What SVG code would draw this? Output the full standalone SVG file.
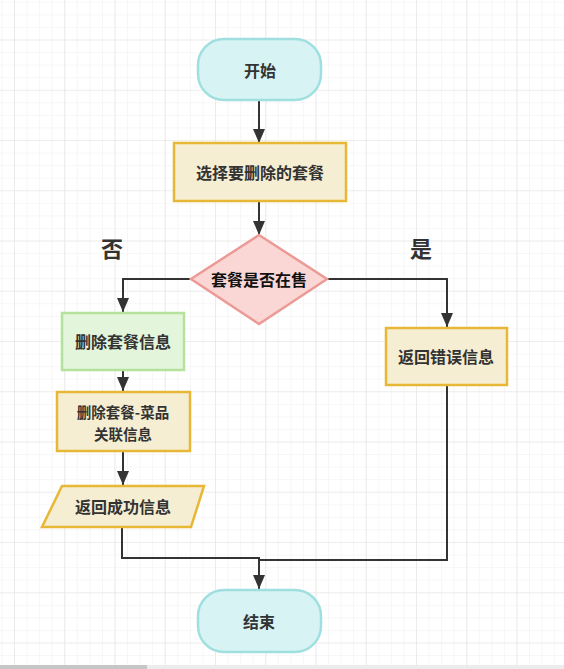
<svg xmlns="http://www.w3.org/2000/svg" width="564" height="669" viewBox="0 0 564 669">
<defs>
<style>
.t{font-family:"Microsoft YaHei","Noto Sans CJK SC",sans-serif;font-weight:bold;font-size:16px;fill:#333;text-anchor:middle;dominant-baseline:central}
.lbl{font-family:"Noto Sans CJK SC",sans-serif;font-weight:bold;font-size:22px;fill:#333;text-anchor:middle;dominant-baseline:central}
.term{fill:#d7f3f3;stroke:#a0dfe0;stroke-width:2.5}
.proc{fill:#f6eed2;stroke:#e8b736;stroke-width:2.5}
.green{fill:#e3f5da;stroke:#b4e29c;stroke-width:2.5}
.dec{fill:#fad7d5;stroke:#eb9a96;stroke-width:2.5}
.c{fill:none;stroke:#333;stroke-width:2}
</style>
<marker id="arr" markerUnits="userSpaceOnUse" markerWidth="14" markerHeight="12" refX="14" refY="6" orient="auto">
<path d="M0,0 L14,6 L0,12 z" fill="#333"/>
</marker>
<pattern id="minor" patternUnits="userSpaceOnUse" x="14" y="39.5" width="12.5625" height="12.5625">
<path d="M0,0 V12.5625 M0,0 H12.5625" fill="none" stroke="#f0f0f0" stroke-width="1.2"/>
</pattern>
<pattern id="major" patternUnits="userSpaceOnUse" x="14" y="39.5" width="50.25" height="50.25">
<path d="M0,0 V50.25 M0,0 H50.25" fill="none" stroke="#e3e3e3" stroke-width="1.2"/>
</pattern>
</defs>
<rect width="564" height="669" fill="#fff"/>
<rect width="564" height="669" fill="url(#minor)"/>
<rect width="564" height="669" fill="url(#major)"/>
<rect x="0" y="665" width="564" height="4" fill="#ececec"/>
<rect x="0" y="665" width="147" height="4" fill="#c6c6c6"/>

<g id="connectors">
<path class="c" d="M259,101 V143" marker-end="url(#arr)"/>
<path class="c" d="M259,201 V235" marker-end="url(#arr)"/>
<path class="c" d="M191,279 H123 V312" marker-end="url(#arr)"/>
<path class="c" d="M327,279 H447 V327" marker-end="url(#arr)"/>
<path class="c" d="M123,370 V391" marker-end="url(#arr)"/>
<path class="c" d="M123,451 V485" marker-end="url(#arr)"/>
<path class="c" d="M122,527 V558 H259 V589" marker-end="url(#arr)"/>
<path class="c" d="M447,385 V560 H259"/>
</g>

<g id="start">
<rect class="term" x="198" y="39" width="123" height="61" rx="26" ry="26"/>
<text class="t" x="260" y="70">开始</text>
</g>
<g id="select">
<rect class="proc" x="174" y="143" width="172" height="58"/>
<text class="t" x="260" y="172">选择要删除的套餐</text>
</g>
<g id="decision">
<polygon class="dec" points="259,235 327,279 259,324 191,279"/>
<text class="t" x="259" y="279" style="fill:#111">套餐是否在售</text>
</g>
<g id="label-no">
<text class="lbl" x="112" y="247">否</text>
</g>
<g id="label-yes">
<text class="lbl" x="421" y="247">是</text>
</g>
<g id="delete-combo">
<rect class="green" x="62" y="313" width="122" height="57"/>
<text class="t" x="123" y="341">删除套餐信息</text>
</g>
<g id="error">
<rect class="proc" x="386" y="328" width="121" height="57"/>
<text class="t" x="446" y="356">返回错误信息</text>
</g>
<g id="delete-relation">
<rect class="proc" x="57" y="392" width="133" height="59"/>
<text class="t" style="font-size:14.5px"><tspan x="123" y="411">删除套餐-菜品</tspan><tspan x="123" y="432.5">关联信息</tspan></text>
</g>
<g id="success">
<polygon class="proc" points="62,486 204,486 191,527 42,527"/>
<text class="t" x="123" y="506">返回成功信息</text>
</g>
<g id="end">
<rect class="term" x="198" y="590" width="123" height="62" rx="26" ry="26"/>
<text class="t" x="259" y="621">结束</text>
</g>
</svg>
